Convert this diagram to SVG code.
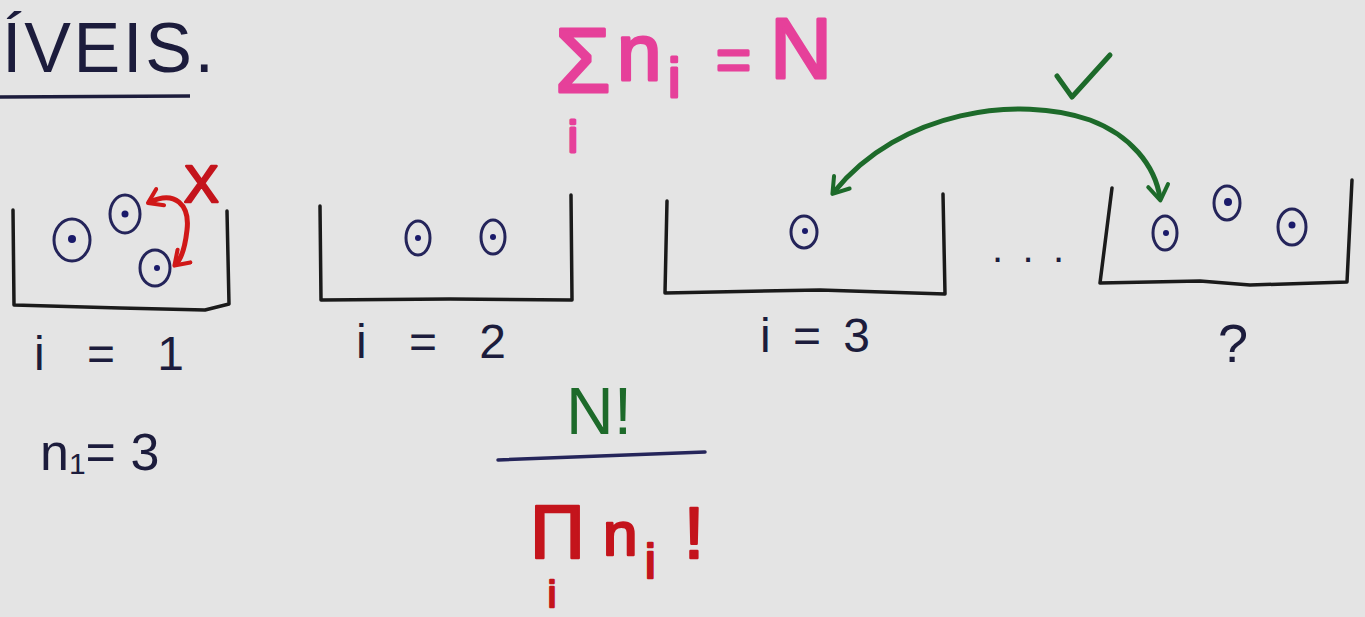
<svg xmlns="http://www.w3.org/2000/svg" width="1365" height="617" viewBox="0 0 1365 617">
<defs>
<style>
.ink{fill:#1c1c3c;font-family:"Liberation Sans",Arial,sans-serif}
.pink{fill:#e6409a;stroke:#e6409a;stroke-width:3;font-family:"Liberation Sans",Arial,sans-serif;stroke-linejoin:round}
.red{fill:#c4141c;stroke:#c4141c;stroke-width:2.5;font-family:"Liberation Sans",Arial,sans-serif;stroke-linejoin:round}
.grn{fill:#1d6a2a;font-family:"Liberation Sans",Arial,sans-serif}
.box{fill:none;stroke:#1a1a1a;stroke-width:3.5;stroke-linejoin:round;stroke-linecap:round}
.ball{fill:none;stroke:#24245a;stroke-width:3}
.dot{fill:#1a1a6a}
</style>
<marker id="gh" viewBox="0 0 10 10" refX="6" refY="5" markerWidth="5" markerHeight="5" orient="auto-start-reverse" markerUnits="strokeWidth">
<path d="M1 1 L7 5 L1 9" fill="none" stroke="#1d6a2a" stroke-width="1.6" stroke-linecap="round" stroke-linejoin="round"/>
</marker>
<marker id="rh" viewBox="0 0 10 10" refX="6" refY="5" markerWidth="4.5" markerHeight="4.5" orient="auto-start-reverse" markerUnits="strokeWidth">
<path d="M1 1 L7 5 L1 9" fill="none" stroke="#d01818" stroke-width="1.8" stroke-linecap="round" stroke-linejoin="round"/>
</marker>
</defs>
<rect width="1365" height="617" fill="#e4e4e4"/>

<g id="title">
<text class="ink" x="2" y="72" font-size="70" textLength="212" lengthAdjust="spacing">ÍVEIS.</text>
<path d="M0 97 L190 96" stroke="#1c1c3c" stroke-width="3.5" fill="none"/>
</g>

<g id="sum-formula">
<text class="pink" x="555" y="92" font-size="90">Σ</text>
<text class="pink" x="617" y="80" font-size="80">n</text>
<text class="pink" x="668" y="97" font-size="56">i</text>
<text class="pink" x="716" y="80" font-size="60">=</text>
<text class="pink" x="770" y="78" font-size="86">N</text>
<text class="pink" x="568" y="152" font-size="44">i</text>
</g>

<g id="box1">
<path class="box" d="M13 210 L14 305 L120 308 L205 310 L229 304 L227 211"/>
<ellipse class="ball" cx="72" cy="240" rx="18" ry="21"/><circle class="dot" cx="72" cy="239" r="4"/>
<ellipse class="ball" cx="125" cy="214" rx="15" ry="19"/><circle class="dot" cx="125" cy="214" r="3.5"/>
<ellipse class="ball" cx="155" cy="268" rx="15" ry="18"/><circle class="dot" cx="157" cy="268" r="3"/>
<text class="red" x="184" y="202" font-size="52">X</text>
<text class="ink" x="34" y="370" font-size="48" textLength="150" lengthAdjust="spacing">i = 1</text>
<text class="ink" x="40" y="470" font-size="52">n<tspan font-size="30" dy="4">1</tspan><tspan dy="-4">= 3</tspan></text>
</g>

<g id="box2">
<path class="box" d="M320 206 L321 300 L450 299 L572 300 L571 195"/>
<ellipse class="ball" cx="418" cy="238" rx="12" ry="17"/><circle class="dot" cx="418" cy="238" r="3"/>
<ellipse class="ball" cx="493" cy="237" rx="12" ry="17"/><circle class="dot" cx="493" cy="237" r="3"/>
<text class="ink" x="356" y="358" font-size="48" textLength="150" lengthAdjust="spacing">i = 2</text>
</g>

<g id="box3">
<path class="box" d="M667 201 L665 293 L820 290 L945 294 L943 194"/>
<ellipse class="ball" cx="804" cy="232" rx="13" ry="16"/><circle class="dot" cx="805" cy="231" r="3"/>
<text class="ink" x="760" y="352" font-size="48" textLength="110" lengthAdjust="spacing">i=3</text>
</g>

<g id="dots">
<text class="ink" x="992" y="262" font-size="40" textLength="72" lengthAdjust="spacing">...</text>
</g>

<g id="box4">
<path class="box" d="M1112 188 L1100 283 L1200 281 L1250 285 L1347 282 L1352 180"/>
<ellipse class="ball" cx="1165" cy="233" rx="12" ry="17"/><circle class="dot" cx="1166" cy="233" r="3"/>
<ellipse class="ball" cx="1227" cy="203" rx="13" ry="17"/><circle class="dot" cx="1228" cy="202" r="4"/>
<ellipse class="ball" cx="1292" cy="227" rx="14" ry="18"/><circle class="dot" cx="1292" cy="225" r="3.5"/>
<text class="ink" x="1218" y="362" font-size="54" font-weight="300">?</text>
</g>

<g id="fraction">
<text class="grn" x="566" y="434" font-size="66">N!</text>
<path d="M498 460 L705 452" stroke="#25255a" stroke-width="3.5" fill="none" stroke-linecap="round"/>
<text class="red" x="530" y="558" font-size="76">Π</text>
<text class="red" x="603" y="555" font-size="62">n</text>
<text class="red" x="645" y="578" font-size="48">i</text>
<text class="red" x="684" y="558" font-size="72">!</text>
<text class="red" x="548" y="607" font-size="36">i</text>
</g>

<g id="connectors">
<path d="M150 202 C175 190 190 205 187 230 C185 248 182 258 176 264" fill="none" stroke="#d01818" stroke-width="5" stroke-linecap="round" marker-start="url(#rh)" marker-end="url(#rh)"/>
<path d="M834 192 C900 110 1020 95 1090 120 C1130 135 1155 165 1160 198" fill="none" stroke="#1d6a2a" stroke-width="5" stroke-linecap="round" marker-start="url(#gh)" marker-end="url(#gh)"/>
<path d="M1057 76 L1072 97 L1110 55" fill="none" stroke="#1d6a2a" stroke-width="5" stroke-linecap="round" stroke-linejoin="round"/>
</g>
</svg>
